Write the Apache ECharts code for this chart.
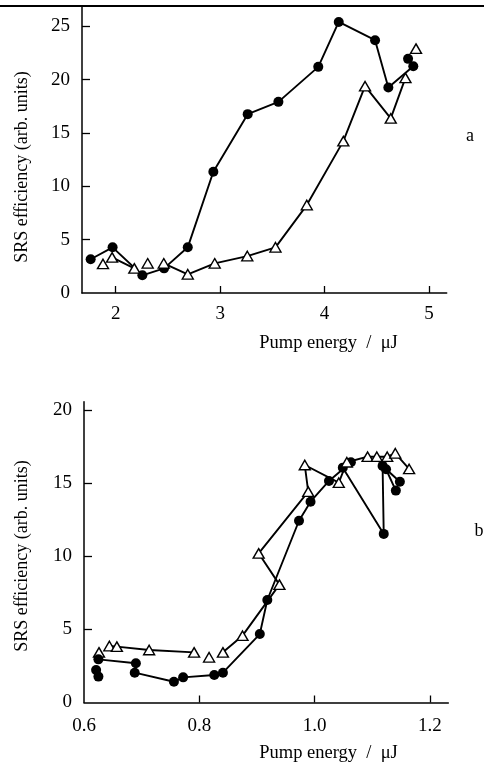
<!DOCTYPE html>
<html><head><meta charset="utf-8">
<script src="https://cdn.jsdelivr.net/npm/echarts@6/dist/echarts.min.js"></script>
<style>html,body{margin:0;padding:0;background:#fff}#c{width:484px;height:769px}</style>
</head><body><div id="c"></div>
<script>
// ---- tick values ----
const topXTicks = [2, 3, 4, 5];
const topYTicks = [0, 5, 10, 15, 20, 25];
const botXTicks = [0.6, 0.8, 1.0, 1.2];
const botYTicks = [0, 5, 10, 15, 20];

// ---- panel a : filled circles ----
const aCircles = [[1.76,3.16],[1.97,4.28],[2.255,1.66],[2.463,2.31],[2.69,4.28],[2.935,11.36],[3.264,16.76],[3.558,17.91],[3.94,21.19],[4.136,25.4],[4.484,23.69],[4.611,19.26],[4.85,21.25],[4.80,21.94]];
// ---- panel a : open triangles ----
const aTriPath1 = [[1.965,3.34],[2.178,2.31]];
const aTriPath2 = [[2.46,2.78],[2.69,1.75],[2.948,2.78],[3.26,3.46],[3.53,4.28],[3.83,8.24],[4.18,14.23],[4.388,19.38],[4.634,16.36],[4.775,20.16]];
const aTriSingles = [[1.878,2.72],[2.306,2.78],[4.876,22.9]];

// ---- panel b : filled circles ----
const bCirclePath = [[0.625,2.95],[0.69,2.68],[0.688,2.04],[0.756,1.42],[0.772,1.72],[0.826,1.88],[0.841,2.04],[0.905,4.68],[0.918,7.01],[0.973,12.43],[0.993,13.73],[1.025,15.15],[1.063,16.43],[1.049,16.06],[1.12,11.53],[1.118,16.18],[1.148,15.1],[1.124,15.95],[1.141,14.49]];
const bCircleSingles = [[0.621,2.22],[0.625,1.77]];
// ---- panel b : open triangles ----
const bTriPath1 = [[0.644,3.86],[0.657,3.82],[0.713,3.59],[0.791,3.43]];
const bTriPath2 = [[0.841,3.43],[0.875,4.57],[0.939,8.06],[0.903,10.2],[0.989,14.42],[0.983,16.24],[1.042,15.03],[1.056,16.43],[1.092,16.81],[1.108,16.81],[1.126,16.81],[1.14,17.04],[1.164,15.97]];
const bTriSingles = [[0.626,3.43],[0.817,3.09]];

const FONT = 'Liberation Serif';
const axisCommon = {
  axisLine: { show: true, onZero: false, lineStyle: { color: '#000', width: 1.5 } },
  splitLine: { show: false },
  axisLabel: { color: '#000', fontFamily: FONT, fontSize: 19, margin: 12 }
};
function xAx(gi, min, max, ticks, labels, fmt, mg) {
  return Object.assign({}, axisCommon, {
    type: 'value', gridIndex: gi, min: min, max: max,
    axisTick: { show: true, inside: true, length: 7, lineStyle: { color: '#000', width: 1.3 }, customValues: ticks },
    axisLabel: Object.assign({}, axisCommon.axisLabel, { customValues: labels, formatter: fmt, margin: mg })
  });
}
function yAx(gi, min, max, ticks, fmt) {
  return Object.assign({}, axisCommon, {
    type: 'value', gridIndex: gi, min: min, max: max,
    axisTick: { show: true, inside: true, length: 8, lineStyle: { color: '#000', width: 1.3 }, customValues: ticks.filter(v => v !== 0) },
    axisLabel: Object.assign({}, axisCommon.axisLabel, { customValues: ticks, formatter: fmt })
  });
}
const circleStyle = { symbol: 'circle', symbolSize: 10, itemStyle: { color: '#000', opacity: 1 } };
const triStyle = { symbol: 'triangle', symbolSize: [11, 9.5], itemStyle: { color: '#fff', borderColor: '#000', borderWidth: 1.4, opacity: 1 } };
function lineS(xi, data, st) {
  return Object.assign({ type: 'line', xAxisIndex: xi, yAxisIndex: xi, data: data, lineStyle: { color: '#000', width: 1.9 }, showAllSymbol: true, emphasis: { disabled: true }, silent: true }, st);
}
function dotS(xi, data, st) {
  return Object.assign({ type: 'scatter', xAxisIndex: xi, yAxisIndex: xi, data: data, emphasis: { disabled: true }, silent: true }, st);
}
const txt = (t, x, y, rot, size) => ({ type: 'text', x: x, y: y, rotation: rot || 0, silent: true,
  style: { text: t, fill: '#000', font: (size || 18) + 'px "Liberation Serif"', textAlign: 'center', textVerticalAlign: 'middle' } });

const chart = echarts.init(document.getElementById('c'));
chart.setOption({
  animation: false,
  backgroundColor: '#fff',
  grid: [
    { left: 82, top: 7, right: 37.3, bottom: 476 },
    { left: 84, top: 401.7, right: 35.7, bottom: 66.5 }
  ],
  xAxis: [
    xAx(0, 1.677, 5.17, topXTicks, topXTicks, v => String(v), 12),
    xAx(1, 0.6, 1.232, botXTicks.slice(1), botXTicks, v => v.toFixed(1), 14)
  ],
  yAxis: [
    yAx(0, 0, 26.8, topYTicks, v => String(v)),
    yAx(1, 0, 20.57, botYTicks, v => String(v))
  ],
  series: [
    lineS(0, aCircles, circleStyle),
    lineS(0, aTriPath1, triStyle),
    lineS(0, aTriPath2, triStyle),
    dotS(0, aTriSingles, triStyle),
    lineS(1, bCirclePath, circleStyle),
    dotS(1, bCircleSingles, circleStyle),
    lineS(1, bTriPath1, triStyle),
    lineS(1, bTriPath2, triStyle),
    dotS(1, bTriSingles, triStyle)
  ],
  graphic: [
    { type: 'line', silent: true, shape: { x1: 0, y1: 6, x2: 484, y2: 6 }, style: { stroke: '#000', lineWidth: 2 } },
    txt('SRS efficiency (arb. units)', 22, 167, Math.PI / 2),
    txt('SRS efficiency (arb. units)', 22, 556, Math.PI / 2),
    txt('Pump energy  /  μJ', 328.5, 343, 0, 18.5),
    txt('Pump energy  /  μJ', 328.5, 753, 0, 18.5),
    txt('a', 470, 136),
    txt('b', 479, 531)
  ]
});
</script>
</body></html>
